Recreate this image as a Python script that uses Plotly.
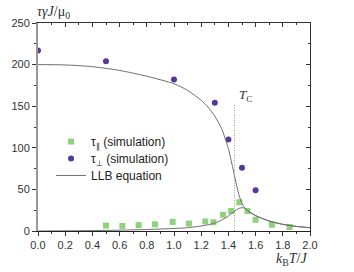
import plotly.graph_objects as go

# --- data ---
perp_x = [0.0, 0.5, 1.0, 1.3, 1.4, 1.5, 1.6]
perp_y = [217, 204, 182, 154, 110, 76, 49]

par_x = [0.5, 0.62, 0.74, 0.86, 0.99, 1.11, 1.23, 1.29, 1.36, 1.42, 1.48, 1.54, 1.6, 1.72, 1.85]
par_y = [6.5, 6, 7, 8, 11, 9, 11.5, 10.5, 19.5, 24, 34.5, 24, 13.5, 7.5, 4.8]

llb_x = [0.0, 0.2, 0.4, 0.6, 0.8, 1.0, 1.1, 1.2, 1.25, 1.3, 1.35, 1.4, 1.42, 1.44, 1.46, 1.48, 1.5, 1.52, 1.55, 1.6, 1.7, 1.8, 1.9, 2.0]
llb_perp = [200, 199.6, 197.5, 193, 186, 177, 169, 157, 149, 138, 123, 99, 85, 70, 55, 42, 33, 28, 23.5, 18.5, 12, 8, 5.5, 4]
llb_par = [0, 0.2, 0.5, 1.0, 1.8, 3, 4, 6, 7.5, 9.5, 13, 18, 20.5, 23, 25.5, 27.3, 28, 27.3, 23.5, 18.5, 12, 8, 5.5, 4]

tc = 1.445
x_ticks = [0.0, 0.2, 0.4, 0.6, 0.8, 1.0, 1.2, 1.4, 1.6, 1.8, 2.0]
y_ticks = [0, 50, 100, 150, 200, 250]

line_col = "#6e6e6e"
fig = go.Figure()

fig.add_trace(go.Scatter(x=par_x, y=par_y, mode="markers", name="τ<sub>∥</sub> (simulation)",
                         legend="legend",
                         marker=dict(symbol="square", size=6, color="#8fd27c")))
fig.add_trace(go.Scatter(x=perp_x, y=perp_y, mode="markers", name="τ<sub>⊥</sub> (simulation)",
                         legend="legend2",
                         marker=dict(symbol="circle", size=6, color="#55389a")))
fig.add_trace(go.Scatter(x=llb_x, y=llb_perp, mode="lines", name="LLB equation",
                         legend="legend3",
                         line=dict(color=line_col, width=1, shape="spline", smoothing=0.7)))
fig.add_trace(go.Scatter(x=llb_x, y=llb_par, mode="lines", name="LLB par", showlegend=False,
                         line=dict(color=line_col, width=1, shape="spline", smoothing=0.7)))
# Tc marker line
fig.add_trace(go.Scatter(x=[tc, tc], y=[0, 152], mode="lines", showlegend=False,
                         line=dict(color="#a0a0a0", width=1, dash="1px,1.5px")))
# dummy trace for mirrored axes
fig.add_trace(go.Scatter(x=[0], y=[0], xaxis="x2", yaxis="y2", mode="markers",
                         marker=dict(opacity=0), showlegend=False, hoverinfo="skip"))

tickfont = dict(family="Liberation Sans, Arial", size=11, color="#333")
legfont = dict(family="Liberation Sans, Arial", size=12, color="#222")


def leg(yc):
    return dict(x=0.048, y=yc, xanchor="left", yanchor="middle", bgcolor="rgba(0,0,0,0)",
                font=legfont, itemwidth=30)


fig.update_layout(
    width=354, height=272,
    margin=dict(l=38, r=44, t=23, b=41),
    paper_bgcolor="white", plot_bgcolor="white",
    showlegend=True,
    legend=leg(0.430),
    legend2=leg(0.349),
    legend3=leg(0.267),
    xaxis=dict(range=[0, 2.0], tickvals=x_ticks, ticktext=[f"{v:.1f}" for v in x_ticks],
               ticks="outside", ticklen=4, tickcolor="#333", showgrid=False, zeroline=False,
               showline=True, linecolor="#222", linewidth=1, tickfont=tickfont,
               minor=dict(dtick=0.1, ticks="outside", ticklen=2, tickcolor="#333")),
    yaxis=dict(range=[0, 250], tickvals=y_ticks, ticks="outside", ticklen=4, tickcolor="#333",
               showgrid=False, zeroline=False, showline=True, linecolor="#999", linewidth=2,
               tickfont=tickfont,
               minor=dict(dtick=25, ticks="outside", ticklen=2, tickcolor="#333")),
    xaxis2=dict(range=[0, 2.0], overlaying="x", side="top", tickvals=x_ticks, ticks="inside",
                ticklen=4, tickcolor="#333", showticklabels=False, showgrid=False, zeroline=False,
                showline=True, linecolor="#333", linewidth=1,
                minor=dict(dtick=0.1, ticks="inside", ticklen=2, tickcolor="#333")),
    yaxis2=dict(range=[0, 250], overlaying="y", side="right", tickvals=y_ticks, ticks="inside",
                ticklen=4, tickcolor="#333", showticklabels=False, showgrid=False, zeroline=False,
                showline=True, linecolor="#333", linewidth=1,
                minor=dict(dtick=25, ticks="inside", ticklen=2, tickcolor="#333")),
    annotations=[
        dict(text="<i>τγJ</i>/μ<sub>0</sub>", xref="paper", yref="paper", x=-0.01, y=1.0,
             xanchor="left", yanchor="bottom", showarrow=False,
             font=dict(family="Liberation Serif, Times New Roman", size=14, color="#333")),
        dict(text="<i>k</i><sub>B</sub><i>T</i>/<i>J</i>", xref="paper", yref="paper", x=0.995, y=-0.085,
             xanchor="right", yanchor="top", showarrow=False,
             font=dict(family="Liberation Serif, Times New Roman", size=14, color="#333")),
        dict(text="<i>T</i><sub>C</sub>", xref="x", yref="y", x=tc + 0.02, y=163,
             xanchor="left", yanchor="middle", showarrow=False,
             font=dict(family="Liberation Serif, Times New Roman", size=13, color="#333")),
    ],
)

fig.write_html("out.html", config={"displayModeBar": False},
               post_script="document.body.style.margin='0';document.body.style.padding='0';")
